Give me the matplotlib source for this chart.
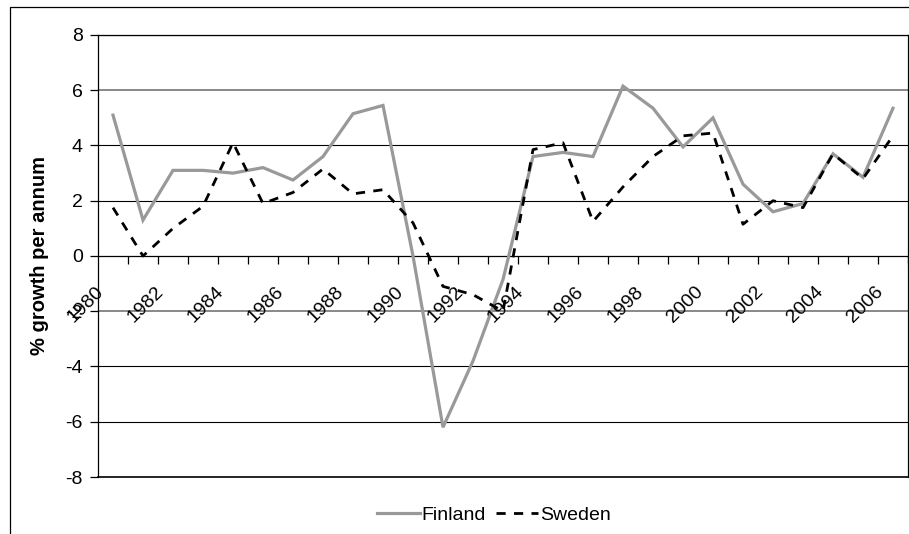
import matplotlib
matplotlib.use("Agg")
import matplotlib.pyplot as plt
from matplotlib.patches import Rectangle
from matplotlib.transforms import offset_copy

plt.rcParams['font.family'] = ['Liberation Sans', 'DejaVu Sans']

years = list(range(1980, 2007))
finland = [5.1, 1.3, 3.1, 3.1, 3.0, 3.2, 2.75, 3.6, 5.15, 5.45,
           0.0, -6.2, -3.8, -0.85, 3.6, 3.75, 3.6, 6.15, 5.35, 3.95,
           5.0, 2.6, 1.6, 1.9, 3.7, 2.85, 5.35]
sweden = [1.75, 0.0, 1.0, 1.8, 4.1, 1.9, 2.3, 3.15, 2.25, 2.4,
          1.2, -1.1, -1.4, -2.0, 3.85, 4.1, 1.25, 2.5, 3.6, 4.35,
          4.45, 1.15, 2.0, 1.75, 3.7, 2.8, 4.35]
y_ticks = [-8, -6, -4, -2, 0, 2, 4, 6, 8]
x_label_years = [str(y) for y in years]

W, H = 909, 534
fig = plt.figure(figsize=(W / 100, H / 100), dpi=100)

# outer chart border
fig.patches.append(Rectangle((10 / W, -0.05), 1.2, 1 - 7 / H + 0.05,
                             transform=fig.transFigure, fill=False,
                             edgecolor='black', linewidth=0.9))

ax = fig.add_axes([98 / W, 1 - 477 / H, 810 / W, 442 / H])
x = list(range(len(years)))

ax.set_xlim(-0.5, len(years) - 0.5)
ax.set_ylim(-8, 8)

# gridlines
for yv in y_ticks:
    if yv in (6, -2):
        ax.axhline(yv, color='#888888', lw=1.4, zorder=1)
    elif yv != 0:
        ax.axhline(yv, color='black', lw=0.8, zorder=1)

ax.plot(x, finland, color='#999999', lw=2.3, label='Finland', zorder=3,
        solid_joinstyle='miter')
ax.plot(x, sweden, color='black', lw=2.0, linestyle=(0, (3.3, 3.0)),
        label='Sweden', zorder=4)

# spines
for s in ('top', 'right', 'left'):
    ax.spines[s].set_color('black')
    ax.spines[s].set_linewidth(0.9)
ax.spines['bottom'].set_position(('data', 0))
ax.spines['bottom'].set_linewidth(0.9)
ax.axhline(-8, color='black', lw=1.2, zorder=2, clip_on=False)

ax.set_yticks(y_ticks)
ax.set_yticklabels([str(v) for v in y_ticks], fontsize=14)
ax.tick_params(axis='y', direction='out', length=6, width=0.9, pad=5)

ax.set_xticks([i + 0.5 for i in range(len(years))])
ax.set_xticklabels([])
ax.tick_params(axis='x', direction='out', length=6, width=0.9)

# rotated category labels every two years
for i, lab in enumerate(x_label_years):
    if i % 2 == 0:
        tr = offset_copy(ax.transData, fig=fig, x=-12, y=-33, units='dots')
        ax.text(i, 0, lab, transform=tr, rotation=45, rotation_mode='anchor',
                ha='right', va='center', fontsize=14)

ax.set_ylabel('% growth per annum', fontsize=14.5, fontweight='bold', labelpad=12)

fig.legend(loc='center', bbox_to_anchor=(494 / W, 1 - 515 / H), ncol=2,
           frameon=False, fontsize=14, handlelength=2.2, handletextpad=0.1,
           columnspacing=0.5)

fig.savefig('out.png', dpi=100)
